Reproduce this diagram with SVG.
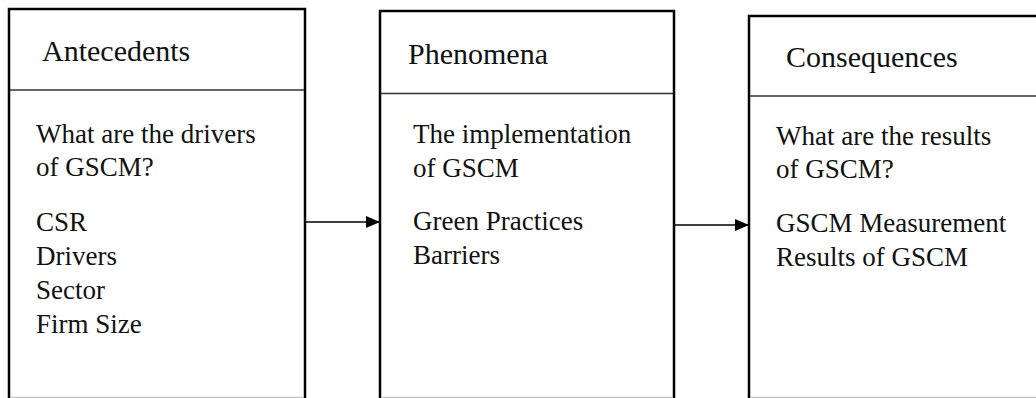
<svg xmlns="http://www.w3.org/2000/svg" width="1036" height="398" viewBox="0 0 1036 398">
  <defs>
    <marker id="arrowhead" markerWidth="14" markerHeight="12" refX="14" refY="6" orient="auto" markerUnits="userSpaceOnUse">
      <path d="M0,0 L14,6 L0,12 Z" fill="#000"/>
    </marker>
    <style>
      .frame { fill: #fff; stroke: #000; stroke-width: 2.5; }
      .divider { stroke: #333; stroke-width: 1.5; }
      .cut { stroke: #c8c8c8; stroke-width: 1.5; }
      .title { font-family: "Liberation Serif", "Times New Roman", serif; font-size: 30px; fill: #111; }
      .body { font-family: "Liberation Serif", "Times New Roman", serif; font-size: 27px; fill: #111; }
      .link { stroke: #000; stroke-width: 1.5; fill: none; }
    </style>
  </defs>
  <rect width="1036" height="398" fill="#fff"/>

  <g id="antecedents">
    <rect class="frame" x="9" y="9" width="296" height="400"/>
    <line class="divider" x1="10" y1="90" x2="304" y2="90"/>
    <line class="cut" x1="11" y1="397.5" x2="303" y2="397.5"/>
    <text class="title" x="42" y="61">Antecedents</text>
    <text class="body" x="36" y="143">What are the drivers</text>
    <text class="body" x="36" y="176">of GSCM?</text>
    <text class="body" x="36" y="231">CSR</text>
    <text class="body" x="36" y="265">Drivers</text>
    <text class="body" x="36" y="299">Sector</text>
    <text class="body" x="36" y="333">Firm Size</text>
  </g>

  <g id="phenomena">
    <rect class="frame" x="380" y="11" width="294" height="400"/>
    <line class="divider" x1="381" y1="93.5" x2="673" y2="93.5"/>
    <line class="cut" x1="382" y1="397.5" x2="672" y2="397.5"/>
    <text class="title" x="408" y="64">Phenomena</text>
    <text class="body" x="413" y="143">The implementation</text>
    <text class="body" x="413" y="177">of GSCM</text>
    <text class="body" x="413" y="230">Green Practices</text>
    <text class="body" x="413" y="264">Barriers</text>
  </g>

  <g id="consequences">
    <rect class="frame" x="749" y="16" width="300" height="400"/>
    <line class="divider" x1="750" y1="96" x2="1036" y2="96"/>
    <line class="cut" x1="751" y1="397.5" x2="1036" y2="397.5"/>
    <text class="title" x="786" y="67">Consequences</text>
    <text class="body" x="776" y="145">What are the results</text>
    <text class="body" x="776" y="178">of GSCM?</text>
    <text class="body" x="776" y="232">GSCM Measurement</text>
    <text class="body" x="776" y="266">Results of GSCM</text>
  </g>

  <g id="connectors">
    <line class="link" x1="305" y1="222" x2="380" y2="222" marker-end="url(#arrowhead)"/>
    <line class="link" x1="674" y1="225" x2="749" y2="225" marker-end="url(#arrowhead)"/>
  </g>
</svg>
